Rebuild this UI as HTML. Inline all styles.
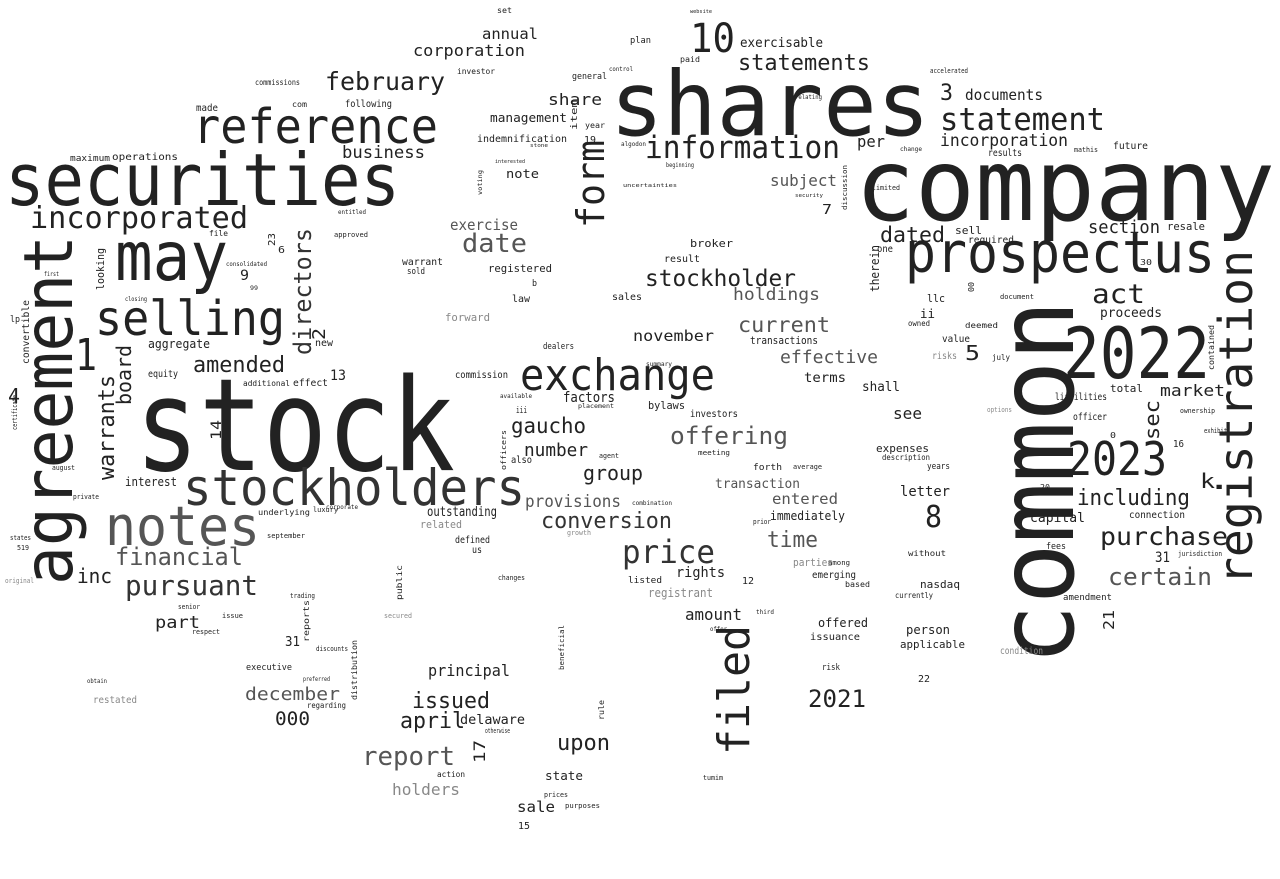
<!DOCTYPE html>
<html><head><meta charset="utf-8"><style>
html,body{margin:0;padding:0;background:#fff;}
svg{display:block;font-family:"DejaVu Sans Mono","Liberation Mono",monospace;}
text{fill:#222;}
.g{fill:#555;} .l{fill:#888;} .m{fill:#333;}
</style></head><body>
<svg width="1280" height="879" viewBox="0 0 1280 879" lengthAdjust="spacingAndGlyphs">
<g>
<text x="855" y="220" font-size="100" textLength="420" lengthAdjust="spacingAndGlyphs">company</text>
<text x="610" y="135" font-size="89" textLength="320" lengthAdjust="spacingAndGlyphs">shares</text>
<text x="135" y="470" font-size="128" textLength="320" lengthAdjust="spacingAndGlyphs">stock</text>
<text x="5" y="205" font-size="72" textLength="395" lengthAdjust="spacingAndGlyphs">securities</text>
<text x="1073" y="665" font-size="105" textLength="365" lengthAdjust="spacingAndGlyphs" transform="rotate(-90 1073 665)">common</text>
<text x="72" y="585" font-size="68" textLength="350" lengthAdjust="spacingAndGlyphs" transform="rotate(-90 72 585)">agreement</text>
<text x="1252" y="585" font-size="46" textLength="335" lengthAdjust="spacingAndGlyphs" transform="rotate(-90 1252 585)">registration</text>
<text x="905" y="272" font-size="56" textLength="310" lengthAdjust="spacingAndGlyphs">prospectus</text>
<text x="1063" y="378" font-size="70" textLength="147" lengthAdjust="spacingAndGlyphs">2022</text>
<text x="1067" y="475" font-size="46" textLength="100" lengthAdjust="spacingAndGlyphs">2023</text>
<text x="115" y="280" font-size="68" textLength="113" lengthAdjust="spacingAndGlyphs">may</text>
<text x="95" y="335" font-size="48" textLength="190" lengthAdjust="spacingAndGlyphs">selling</text>
<text x="193" y="143" font-size="48" textLength="245" lengthAdjust="spacingAndGlyphs">reference</text>
<text x="105" y="545" font-size="54" textLength="155" lengthAdjust="spacingAndGlyphs" class="g">notes</text>
<text x="183" y="505" font-size="50" textLength="342" lengthAdjust="spacingAndGlyphs" class="m">stockholders</text>
<text x="520" y="390" font-size="44" textLength="195" lengthAdjust="spacingAndGlyphs">exchange</text>
<text x="749" y="755" font-size="44" textLength="130" lengthAdjust="spacingAndGlyphs" transform="rotate(-90 749 755)">filed</text>
<text x="604" y="228" font-size="38" textLength="88" lengthAdjust="spacingAndGlyphs" transform="rotate(-90 604 228)">form</text>
<text x="645" y="158" font-size="31" textLength="195" lengthAdjust="spacingAndGlyphs">information</text>
<text x="940" y="130" font-size="31" textLength="165" lengthAdjust="spacingAndGlyphs">statement</text>
<text x="690" y="52" font-size="40" textLength="45" lengthAdjust="spacingAndGlyphs">10</text>
<text x="738" y="70" font-size="22" textLength="132" lengthAdjust="spacingAndGlyphs">statements</text>
<text x="622" y="563" font-size="32" textLength="93" lengthAdjust="spacingAndGlyphs" class="m">price</text>
<text x="30" y="228" font-size="30" textLength="218" lengthAdjust="spacingAndGlyphs">incorporated</text>
<text x="325" y="90" font-size="25" textLength="120" lengthAdjust="spacingAndGlyphs">february</text>
<text x="342" y="158" font-size="17" textLength="83" lengthAdjust="spacingAndGlyphs">business</text>
<text x="75" y="370" font-size="44" textLength="22" lengthAdjust="spacingAndGlyphs">1</text>
<text x="311" y="355" font-size="24" textLength="127" lengthAdjust="spacingAndGlyphs" transform="rotate(-90 311 355)" class="m">directors</text>
<text x="114" y="480" font-size="22" textLength="105" lengthAdjust="spacingAndGlyphs" transform="rotate(-90 114 480)">warrants</text>
<text x="131" y="405" font-size="20" textLength="60" lengthAdjust="spacingAndGlyphs" transform="rotate(-90 131 405)">board</text>
<text x="193" y="372" font-size="22" textLength="92" lengthAdjust="spacingAndGlyphs">amended</text>
<text x="115" y="565" font-size="24" textLength="128" lengthAdjust="spacingAndGlyphs" class="g">financial</text>
<text x="125" y="595" font-size="28" textLength="133" lengthAdjust="spacingAndGlyphs" class="m">pursuant</text>
<text x="77" y="583" font-size="20" textLength="35" lengthAdjust="spacingAndGlyphs">inc</text>
<text x="155" y="628" font-size="17" textLength="45" lengthAdjust="spacingAndGlyphs">part</text>
<text x="245" y="700" font-size="18" textLength="95" lengthAdjust="spacingAndGlyphs" class="g">december</text>
<text x="275" y="725" font-size="19" textLength="35" lengthAdjust="spacingAndGlyphs">000</text>
<text x="362" y="765" font-size="26" textLength="93" lengthAdjust="spacingAndGlyphs" class="g">report</text>
<text x="392" y="795" font-size="16" textLength="68" lengthAdjust="spacingAndGlyphs" class="l">holders</text>
<text x="412" y="708" font-size="22" textLength="78" lengthAdjust="spacingAndGlyphs">issued</text>
<text x="400" y="728" font-size="22" textLength="65" lengthAdjust="spacingAndGlyphs">april</text>
<text x="428" y="676" font-size="16" textLength="82" lengthAdjust="spacingAndGlyphs">principal</text>
<text x="460" y="724" font-size="13" textLength="65" lengthAdjust="spacingAndGlyphs">delaware</text>
<text x="557" y="750" font-size="22" textLength="53" lengthAdjust="spacingAndGlyphs">upon</text>
<text x="517" y="812" font-size="15" textLength="38" lengthAdjust="spacingAndGlyphs">sale</text>
<text x="545" y="780" font-size="12" textLength="38" lengthAdjust="spacingAndGlyphs">state</text>
<text x="808" y="707" font-size="24" textLength="58" lengthAdjust="spacingAndGlyphs">2021</text>
<text x="685" y="620" font-size="16" textLength="57" lengthAdjust="spacingAndGlyphs">amount</text>
<text x="676" y="577" font-size="14" textLength="49" lengthAdjust="spacingAndGlyphs">rights</text>
<text x="767" y="547" font-size="22" textLength="51" lengthAdjust="spacingAndGlyphs" class="g">time</text>
<text x="541" y="528" font-size="22" textLength="131" lengthAdjust="spacingAndGlyphs" class="m">conversion</text>
<text x="525" y="507" font-size="17" textLength="96" lengthAdjust="spacingAndGlyphs" class="g">provisions</text>
<text x="583" y="480" font-size="20" textLength="60" lengthAdjust="spacingAndGlyphs">group</text>
<text x="524" y="456" font-size="18" textLength="64" lengthAdjust="spacingAndGlyphs">number</text>
<text x="511" y="433" font-size="21" textLength="75" lengthAdjust="spacingAndGlyphs">gaucho</text>
<text x="670" y="444" font-size="24" textLength="118" lengthAdjust="spacingAndGlyphs" class="g">offering</text>
<text x="563" y="402" font-size="14" textLength="52" lengthAdjust="spacingAndGlyphs">factors</text>
<text x="645" y="286" font-size="23" textLength="151" lengthAdjust="spacingAndGlyphs">stockholder</text>
<text x="733" y="300" font-size="17" textLength="87" lengthAdjust="spacingAndGlyphs" class="g">holdings</text>
<text x="738" y="332" font-size="21" textLength="92" lengthAdjust="spacingAndGlyphs" class="g">current</text>
<text x="780" y="363" font-size="18" textLength="98" lengthAdjust="spacingAndGlyphs" class="g">effective</text>
<text x="462" y="252" font-size="26" textLength="65" lengthAdjust="spacingAndGlyphs" class="g">date</text>
<text x="450" y="230" font-size="15" textLength="68" lengthAdjust="spacingAndGlyphs" class="g">exercise</text>
<text x="770" y="186" font-size="16" textLength="67" lengthAdjust="spacingAndGlyphs" class="g">subject</text>
<text x="880" y="242" font-size="21" textLength="65" lengthAdjust="spacingAndGlyphs">dated</text>
<text x="1088" y="233" font-size="18" textLength="72" lengthAdjust="spacingAndGlyphs">section</text>
<text x="1092" y="303" font-size="27" textLength="53" lengthAdjust="spacingAndGlyphs">act</text>
<text x="857" y="147" font-size="16" textLength="28" lengthAdjust="spacingAndGlyphs">per</text>
<text x="940" y="146" font-size="17" textLength="128" lengthAdjust="spacingAndGlyphs">incorporation</text>
<text x="940" y="100" font-size="22" textLength="13" lengthAdjust="spacingAndGlyphs">3</text>
<text x="965" y="100" font-size="15" textLength="78" lengthAdjust="spacingAndGlyphs">documents</text>
<text x="1100" y="545" font-size="25" textLength="128" lengthAdjust="spacingAndGlyphs">purchase</text>
<text x="1108" y="585" font-size="24" textLength="104" lengthAdjust="spacingAndGlyphs" class="g">certain</text>
<text x="1077" y="505" font-size="22" textLength="113" lengthAdjust="spacingAndGlyphs">including</text>
<text x="1159" y="440" font-size="20" textLength="40" lengthAdjust="spacingAndGlyphs" transform="rotate(-90 1159 440)">sec</text>
<text x="1160" y="396" font-size="16" textLength="65" lengthAdjust="spacingAndGlyphs">market</text>
<text x="1200" y="488" font-size="20" textLength="15" lengthAdjust="spacingAndGlyphs">k</text>
<text x="925" y="527" font-size="30" textLength="17" lengthAdjust="spacingAndGlyphs">8</text>
<text x="965" y="360" font-size="20" textLength="15" lengthAdjust="spacingAndGlyphs">5</text>
<text x="893" y="419" font-size="16" textLength="29" lengthAdjust="spacingAndGlyphs">see</text>
<text x="900" y="496" font-size="14" textLength="50" lengthAdjust="spacingAndGlyphs">letter</text>
<text x="1030" y="522" font-size="13" textLength="55" lengthAdjust="spacingAndGlyphs">capital</text>
<text x="1114" y="630" font-size="15" textLength="20" lengthAdjust="spacingAndGlyphs" transform="rotate(-90 1114 630)">21</text>
<text x="1155" y="562" font-size="14" textLength="15" lengthAdjust="spacingAndGlyphs">31</text>
<text x="482" y="39" font-size="15" textLength="56" lengthAdjust="spacingAndGlyphs">annual</text>
<text x="413" y="56" font-size="16" textLength="112" lengthAdjust="spacingAndGlyphs">corporation</text>
<text x="490" y="122" font-size="12" textLength="77" lengthAdjust="spacingAndGlyphs">management</text>
<text x="548" y="105" font-size="16" textLength="54" lengthAdjust="spacingAndGlyphs">share</text>
<text x="477" y="142" font-size="10" textLength="90" lengthAdjust="spacingAndGlyphs">indemnification</text>
<text x="506" y="178" font-size="12" textLength="33" lengthAdjust="spacingAndGlyphs">note</text>
<text x="740" y="47" font-size="13" textLength="83" lengthAdjust="spacingAndGlyphs">exercisable</text>
<text x="633" y="341" font-size="15" textLength="81" lengthAdjust="spacingAndGlyphs">november</text>
<text x="125" y="486" font-size="12" textLength="52" lengthAdjust="spacingAndGlyphs">interest</text>
<text x="148" y="348" font-size="12" textLength="62" lengthAdjust="spacingAndGlyphs">aggregate</text>
<text x="148" y="377" font-size="10" textLength="30" lengthAdjust="spacingAndGlyphs">equity</text>
<text x="221" y="440" font-size="14" textLength="20" lengthAdjust="spacingAndGlyphs" transform="rotate(-90 221 440)">14</text>
<text x="325" y="340" font-size="18" textLength="12" lengthAdjust="spacingAndGlyphs" transform="rotate(-90 325 340)">2</text>
<text x="8" y="403" font-size="20" textLength="12" lengthAdjust="spacingAndGlyphs">4</text>
<text x="240" y="280" font-size="14" textLength="9" lengthAdjust="spacingAndGlyphs">9</text>
<text x="330" y="380" font-size="14" textLength="16" lengthAdjust="spacingAndGlyphs">13</text>
<text x="485" y="763" font-size="16" textLength="23" lengthAdjust="spacingAndGlyphs" transform="rotate(-90 485 763)">17</text>
<text x="285" y="646" font-size="13" textLength="15" lengthAdjust="spacingAndGlyphs">31</text>
<text x="427" y="516" font-size="13" textLength="70" lengthAdjust="spacingAndGlyphs">outstanding</text>
<text x="420" y="528" font-size="11" textLength="42" lengthAdjust="spacingAndGlyphs" class="l">related</text>
<text x="648" y="597" font-size="12" textLength="65" lengthAdjust="spacingAndGlyphs" class="l">registrant</text>
<text x="715" y="488" font-size="13" textLength="85" lengthAdjust="spacingAndGlyphs" class="g">transaction</text>
<text x="772" y="504" font-size="15" textLength="66" lengthAdjust="spacingAndGlyphs" class="g">entered</text>
<text x="770" y="520" font-size="12" textLength="75" lengthAdjust="spacingAndGlyphs">immediately</text>
<text x="793" y="566" font-size="11" textLength="40" lengthAdjust="spacingAndGlyphs" class="l">parties</text>
<text x="812" y="578" font-size="10" textLength="44" lengthAdjust="spacingAndGlyphs">emerging</text>
<text x="818" y="627" font-size="12" textLength="50" lengthAdjust="spacingAndGlyphs">offered</text>
<text x="810" y="640" font-size="10" textLength="50" lengthAdjust="spacingAndGlyphs">issuance</text>
<text x="906" y="634" font-size="12" textLength="44" lengthAdjust="spacingAndGlyphs">person</text>
<text x="900" y="648" font-size="11" textLength="65" lengthAdjust="spacingAndGlyphs">applicable</text>
<text x="920" y="588" font-size="11" textLength="40" lengthAdjust="spacingAndGlyphs">nasdaq</text>
<text x="804" y="382" font-size="13" textLength="42" lengthAdjust="spacingAndGlyphs">terms</text>
<text x="862" y="391" font-size="13" textLength="38" lengthAdjust="spacingAndGlyphs">shall</text>
<text x="750" y="344" font-size="11" textLength="68" lengthAdjust="spacingAndGlyphs">transactions</text>
<text x="927" y="302" font-size="11" textLength="18" lengthAdjust="spacingAndGlyphs">llc</text>
<text x="920" y="318" font-size="12" textLength="15" lengthAdjust="spacingAndGlyphs">ii</text>
<text x="942" y="342" font-size="10" textLength="28" lengthAdjust="spacingAndGlyphs">value</text>
<text x="1100" y="317" font-size="13" textLength="62" lengthAdjust="spacingAndGlyphs">proceeds</text>
<text x="879" y="292" font-size="12" textLength="47" lengthAdjust="spacingAndGlyphs" transform="rotate(-90 879 292)">therein</text>
<text x="877" y="252" font-size="10" textLength="16" lengthAdjust="spacingAndGlyphs">one</text>
<text x="955" y="234" font-size="11" textLength="27" lengthAdjust="spacingAndGlyphs">sell</text>
<text x="968" y="243" font-size="10" textLength="46" lengthAdjust="spacingAndGlyphs">required</text>
<text x="1167" y="230" font-size="11" textLength="38" lengthAdjust="spacingAndGlyphs">resale</text>
<text x="1113" y="149" font-size="10" textLength="35" lengthAdjust="spacingAndGlyphs">future</text>
<text x="988" y="156" font-size="10" textLength="34" lengthAdjust="spacingAndGlyphs">results</text>
<text x="876" y="452" font-size="11" textLength="53" lengthAdjust="spacingAndGlyphs">expenses</text>
<text x="882" y="460" font-size="8" textLength="48" lengthAdjust="spacingAndGlyphs">description</text>
<text x="927" y="469" font-size="9" textLength="23" lengthAdjust="spacingAndGlyphs">years</text>
<text x="1110" y="392" font-size="11" textLength="33" lengthAdjust="spacingAndGlyphs">total</text>
<text x="1055" y="400" font-size="10" textLength="52" lengthAdjust="spacingAndGlyphs">liabilities</text>
<text x="1073" y="420" font-size="10" textLength="34" lengthAdjust="spacingAndGlyphs">officer</text>
<text x="1173" y="447" font-size="10" textLength="11" lengthAdjust="spacingAndGlyphs">16</text>
<text x="1040" y="490" font-size="8" textLength="10" lengthAdjust="spacingAndGlyphs">20</text>
<text x="1129" y="518" font-size="10" textLength="56" lengthAdjust="spacingAndGlyphs">connection</text>
<text x="1063" y="600" font-size="9" textLength="49" lengthAdjust="spacingAndGlyphs">amendment</text>
<text x="1046" y="549" font-size="9" textLength="20" lengthAdjust="spacingAndGlyphs">fees</text>
<text x="1000" y="654" font-size="10" textLength="43" lengthAdjust="spacingAndGlyphs" class="l">condition</text>
<text x="918" y="682" font-size="10" textLength="12" lengthAdjust="spacingAndGlyphs">22</text>
<text x="822" y="670" font-size="9" textLength="18" lengthAdjust="spacingAndGlyphs">risk</text>
<text x="932" y="359" font-size="10" textLength="25" lengthAdjust="spacingAndGlyphs" class="l">risks</text>
<text x="543" y="349" font-size="9" textLength="31" lengthAdjust="spacingAndGlyphs">dealers</text>
<text x="455" y="378" font-size="10" textLength="53" lengthAdjust="spacingAndGlyphs">commission</text>
<text x="690" y="417" font-size="10" textLength="48" lengthAdjust="spacingAndGlyphs">investors</text>
<text x="648" y="409" font-size="11" textLength="37" lengthAdjust="spacingAndGlyphs">bylaws</text>
<text x="511" y="463" font-size="10" textLength="21" lengthAdjust="spacingAndGlyphs">also</text>
<text x="516" y="413" font-size="9" textLength="11" lengthAdjust="spacingAndGlyphs">iii</text>
<text x="455" y="543" font-size="10" textLength="35" lengthAdjust="spacingAndGlyphs">defined</text>
<text x="472" y="553" font-size="10" textLength="10" lengthAdjust="spacingAndGlyphs">us</text>
<text x="445" y="321" font-size="11" textLength="45" lengthAdjust="spacingAndGlyphs" class="l">forward</text>
<text x="512" y="302" font-size="10" textLength="18" lengthAdjust="spacingAndGlyphs">law</text>
<text x="488" y="272" font-size="11" textLength="64" lengthAdjust="spacingAndGlyphs">registered</text>
<text x="532" y="286" font-size="9" textLength="5" lengthAdjust="spacingAndGlyphs">b</text>
<text x="664" y="262" font-size="10" textLength="36" lengthAdjust="spacingAndGlyphs">result</text>
<text x="690" y="247" font-size="11" textLength="43" lengthAdjust="spacingAndGlyphs">broker</text>
<text x="612" y="300" font-size="10" textLength="30" lengthAdjust="spacingAndGlyphs">sales</text>
<text x="402" y="265" font-size="10" textLength="41" lengthAdjust="spacingAndGlyphs">warrant</text>
<text x="407" y="274" font-size="9" textLength="18" lengthAdjust="spacingAndGlyphs">sold</text>
<text x="315" y="346" font-size="10" textLength="18" lengthAdjust="spacingAndGlyphs">new</text>
<text x="293" y="386" font-size="10" textLength="35" lengthAdjust="spacingAndGlyphs">effect</text>
<text x="243" y="386" font-size="8" textLength="47" lengthAdjust="spacingAndGlyphs">additional</text>
<text x="104" y="290" font-size="11" textLength="42" lengthAdjust="spacingAndGlyphs" transform="rotate(-90 104 290)">looking</text>
<text x="29" y="364" font-size="10" textLength="64" lengthAdjust="spacingAndGlyphs" transform="rotate(-90 29 364)">convertible</text>
<text x="10" y="322" font-size="9" textLength="10" lengthAdjust="spacingAndGlyphs">lp</text>
<text x="258" y="515" font-size="8" textLength="52" lengthAdjust="spacingAndGlyphs">underlying</text>
<text x="246" y="670" font-size="9" textLength="46" lengthAdjust="spacingAndGlyphs">executive</text>
<text x="316" y="651" font-size="7" textLength="32" lengthAdjust="spacingAndGlyphs">discounts</text>
<text x="309" y="642" font-size="8" textLength="42" lengthAdjust="spacingAndGlyphs" transform="rotate(-90 309 642)">reports</text>
<text x="357" y="700" font-size="8" textLength="60" lengthAdjust="spacingAndGlyphs" transform="rotate(-90 357 700)">distribution</text>
<text x="402" y="600" font-size="8" textLength="35" lengthAdjust="spacingAndGlyphs" transform="rotate(-90 402 600)">public</text>
<text x="290" y="598" font-size="7" textLength="25" lengthAdjust="spacingAndGlyphs">trading</text>
<text x="93" y="703" font-size="10" textLength="44" lengthAdjust="spacingAndGlyphs" class="l">restated</text>
<text x="112" y="160" font-size="10" textLength="66" lengthAdjust="spacingAndGlyphs">operations</text>
<text x="70" y="161" font-size="9" textLength="40" lengthAdjust="spacingAndGlyphs">maximum</text>
<text x="196" y="111" font-size="10" textLength="22" lengthAdjust="spacingAndGlyphs">made</text>
<text x="255" y="85" font-size="8" textLength="45" lengthAdjust="spacingAndGlyphs">commissions</text>
<text x="345" y="107" font-size="10" textLength="47" lengthAdjust="spacingAndGlyphs">following</text>
<text x="292" y="107" font-size="8" textLength="15" lengthAdjust="spacingAndGlyphs">com</text>
<text x="275" y="246" font-size="10" textLength="13" lengthAdjust="spacingAndGlyphs" transform="rotate(-90 275 246)">23</text>
<text x="278" y="253" font-size="10" textLength="7" lengthAdjust="spacingAndGlyphs">6</text>
<text x="577" y="130" font-size="9" textLength="30" lengthAdjust="spacingAndGlyphs" transform="rotate(-90 577 130)">item</text>
<text x="584" y="143" font-size="10" textLength="12" lengthAdjust="spacingAndGlyphs">19</text>
<text x="585" y="128" font-size="8" textLength="20" lengthAdjust="spacingAndGlyphs">year</text>
<text x="572" y="79" font-size="9" textLength="35" lengthAdjust="spacingAndGlyphs">general</text>
<text x="630" y="43" font-size="9" textLength="21" lengthAdjust="spacingAndGlyphs">plan</text>
<text x="680" y="62" font-size="8" textLength="20" lengthAdjust="spacingAndGlyphs">paid</text>
<text x="497" y="13" font-size="8" textLength="15" lengthAdjust="spacingAndGlyphs">set</text>
<text x="457" y="74" font-size="8" textLength="38" lengthAdjust="spacingAndGlyphs">investor</text>
<text x="974" y="292" font-size="8" textLength="10" lengthAdjust="spacingAndGlyphs" transform="rotate(-90 974 292)">00</text>
<text x="965" y="328" font-size="8" textLength="33" lengthAdjust="spacingAndGlyphs">deemed</text>
<text x="908" y="326" font-size="8" textLength="22" lengthAdjust="spacingAndGlyphs">owned</text>
<text x="1000" y="299" font-size="7" textLength="34" lengthAdjust="spacingAndGlyphs">document</text>
<text x="1140" y="265" font-size="8" textLength="12" lengthAdjust="spacingAndGlyphs">30</text>
<text x="1214" y="370" font-size="8" textLength="45" lengthAdjust="spacingAndGlyphs" transform="rotate(-90 1214 370)">contained</text>
<text x="1110" y="438" font-size="8" textLength="6" lengthAdjust="spacingAndGlyphs">0</text>
<text x="742" y="584" font-size="10" textLength="12" lengthAdjust="spacingAndGlyphs">12</text>
<text x="628" y="583" font-size="9" textLength="34" lengthAdjust="spacingAndGlyphs">listed</text>
<text x="518" y="829" font-size="10" textLength="12" lengthAdjust="spacingAndGlyphs">15</text>
<text x="565" y="808" font-size="7" textLength="35" lengthAdjust="spacingAndGlyphs">purposes</text>
<text x="544" y="797" font-size="7" textLength="24" lengthAdjust="spacingAndGlyphs">prices</text>
<text x="437" y="777" font-size="8" textLength="28" lengthAdjust="spacingAndGlyphs">action</text>
<text x="485" y="733" font-size="7" textLength="25" lengthAdjust="spacingAndGlyphs">otherwise</text>
<text x="564" y="670" font-size="7" textLength="45" lengthAdjust="spacingAndGlyphs" transform="rotate(-90 564 670)">beneficial</text>
<text x="604" y="720" font-size="8" textLength="20" lengthAdjust="spacingAndGlyphs" transform="rotate(-90 604 720)">rule</text>
<text x="703" y="780" font-size="7" textLength="20" lengthAdjust="spacingAndGlyphs">tumim</text>
<text x="753" y="470" font-size="9" textLength="29" lengthAdjust="spacingAndGlyphs">forth</text>
<text x="793" y="469" font-size="7" textLength="29" lengthAdjust="spacingAndGlyphs">average</text>
<text x="828" y="565" font-size="7" textLength="22" lengthAdjust="spacingAndGlyphs">among</text>
<text x="845" y="587" font-size="8" textLength="25" lengthAdjust="spacingAndGlyphs">based</text>
<text x="895" y="598" font-size="8" textLength="38" lengthAdjust="spacingAndGlyphs">currently</text>
<text x="908" y="556" font-size="8" textLength="38" lengthAdjust="spacingAndGlyphs">without</text>
<text x="872" y="190" font-size="7" textLength="28" lengthAdjust="spacingAndGlyphs">limited</text>
<text x="847" y="210" font-size="7" textLength="45" lengthAdjust="spacingAndGlyphs" transform="rotate(-90 847 210)">discussion</text>
<text x="822" y="214" font-size="13" textLength="10" lengthAdjust="spacingAndGlyphs">7</text>
<text x="1074" y="152" font-size="7" textLength="24" lengthAdjust="spacingAndGlyphs">mathis</text>
<text x="930" y="73" font-size="7" textLength="38" lengthAdjust="spacingAndGlyphs">accelerated</text>
<text x="987" y="412" font-size="7" textLength="25" lengthAdjust="spacingAndGlyphs" class="l">options</text>
<text x="992" y="360" font-size="8" textLength="18" lengthAdjust="spacingAndGlyphs">july</text>
<text x="1180" y="413" font-size="7" textLength="35" lengthAdjust="spacingAndGlyphs">ownership</text>
<text x="1204" y="433" font-size="7" textLength="23" lengthAdjust="spacingAndGlyphs">exhibit</text>
<text x="1178" y="556" font-size="7" textLength="44" lengthAdjust="spacingAndGlyphs">jurisdiction</text>
<text x="334" y="237" font-size="7" textLength="34" lengthAdjust="spacingAndGlyphs">approved</text>
<text x="209" y="236" font-size="8" textLength="19" lengthAdjust="spacingAndGlyphs">file</text>
<text x="178" y="609" font-size="7" textLength="22" lengthAdjust="spacingAndGlyphs">senior</text>
<text x="52" y="470" font-size="7" textLength="23" lengthAdjust="spacingAndGlyphs">august</text>
<text x="73" y="499" font-size="7" textLength="26" lengthAdjust="spacingAndGlyphs">private</text>
<text x="17" y="430" font-size="7" textLength="35" lengthAdjust="spacingAndGlyphs" transform="rotate(-90 17 430)">certificate</text>
<text x="10" y="540" font-size="7" textLength="21" lengthAdjust="spacingAndGlyphs">states</text>
<text x="17" y="550" font-size="7" textLength="12" lengthAdjust="spacingAndGlyphs">519</text>
<text x="5" y="583" font-size="7" textLength="29" lengthAdjust="spacingAndGlyphs" class="l">original</text>
<text x="384" y="618" font-size="7" textLength="28" lengthAdjust="spacingAndGlyphs" class="l">secured</text>
<text x="222" y="618" font-size="7" textLength="21" lengthAdjust="spacingAndGlyphs">issue</text>
<text x="192" y="634" font-size="7" textLength="28" lengthAdjust="spacingAndGlyphs">respect</text>
<text x="87" y="683" font-size="6" textLength="20" lengthAdjust="spacingAndGlyphs">obtain</text>
<text x="307" y="708" font-size="8" textLength="39" lengthAdjust="spacingAndGlyphs">regarding</text>
<text x="303" y="681" font-size="6" textLength="27" lengthAdjust="spacingAndGlyphs">preferred</text>
<text x="313" y="512" font-size="7" textLength="25" lengthAdjust="spacingAndGlyphs">luxury</text>
<text x="326" y="509" font-size="6" textLength="32" lengthAdjust="spacingAndGlyphs">corporate</text>
<text x="267" y="538" font-size="7" textLength="38" lengthAdjust="spacingAndGlyphs">september</text>
<text x="498" y="580" font-size="7" textLength="27" lengthAdjust="spacingAndGlyphs">changes</text>
<text x="599" y="458" font-size="7" textLength="20" lengthAdjust="spacingAndGlyphs">agent</text>
<text x="698" y="455" font-size="7" textLength="32" lengthAdjust="spacingAndGlyphs">meeting</text>
<text x="632" y="505" font-size="6" textLength="40" lengthAdjust="spacingAndGlyphs">combination</text>
<text x="506" y="470" font-size="7" textLength="40" lengthAdjust="spacingAndGlyphs" transform="rotate(-90 506 470)">officers</text>
<text x="567" y="535" font-size="7" textLength="24" lengthAdjust="spacingAndGlyphs" class="l">growth</text>
<text x="646" y="366" font-size="6" textLength="26" lengthAdjust="spacingAndGlyphs">summary</text>
<text x="578" y="408" font-size="6" textLength="36" lengthAdjust="spacingAndGlyphs">placement</text>
<text x="500" y="398" font-size="6" textLength="32" lengthAdjust="spacingAndGlyphs">available</text>
<text x="710" y="631" font-size="6" textLength="17" lengthAdjust="spacingAndGlyphs">offer</text>
<text x="756" y="614" font-size="6" textLength="18" lengthAdjust="spacingAndGlyphs">third</text>
<text x="753" y="524" font-size="7" textLength="18" lengthAdjust="spacingAndGlyphs">prior</text>
<text x="250" y="290" font-size="6" textLength="8" lengthAdjust="spacingAndGlyphs">99</text>
<text x="125" y="301" font-size="6" textLength="22" lengthAdjust="spacingAndGlyphs">closing</text>
<text x="44" y="276" font-size="6" textLength="15" lengthAdjust="spacingAndGlyphs">first</text>
<text x="226" y="266" font-size="6" textLength="41" lengthAdjust="spacingAndGlyphs">consolidated</text>
<text x="338" y="214" font-size="6" textLength="28" lengthAdjust="spacingAndGlyphs">entitled</text>
<text x="482" y="195" font-size="6" textLength="25" lengthAdjust="spacingAndGlyphs" transform="rotate(-90 482 195)">voting</text>
<text x="530" y="147" font-size="5" textLength="18" lengthAdjust="spacingAndGlyphs">stone</text>
<text x="495" y="163" font-size="5" textLength="30" lengthAdjust="spacingAndGlyphs">interested</text>
<text x="621" y="146" font-size="6" textLength="25" lengthAdjust="spacingAndGlyphs">algodon</text>
<text x="666" y="167" font-size="6" textLength="28" lengthAdjust="spacingAndGlyphs">beginning</text>
<text x="623" y="187" font-size="5" textLength="54" lengthAdjust="spacingAndGlyphs">uncertainties</text>
<text x="900" y="151" font-size="6" textLength="22" lengthAdjust="spacingAndGlyphs">change</text>
<text x="795" y="197" font-size="5" textLength="28" lengthAdjust="spacingAndGlyphs">security</text>
<text x="795" y="99" font-size="6" textLength="27" lengthAdjust="spacingAndGlyphs">relating</text>
<text x="690" y="13" font-size="5" textLength="22" lengthAdjust="spacingAndGlyphs">website</text>
<text x="609" y="71" font-size="6" textLength="24" lengthAdjust="spacingAndGlyphs">control</text>
</g>
</svg>
</body></html>
